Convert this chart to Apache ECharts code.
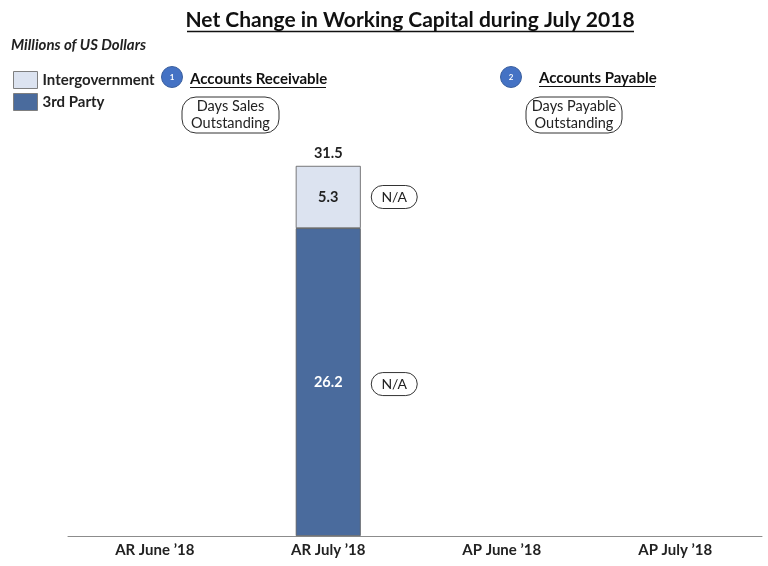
<!DOCTYPE html>
<html>
<head>
<meta charset="utf-8">
<style>
  html, body { margin: 0; padding: 0; background: #fff; }
  #chart { width: 768px; height: 566px; }
</style>
<script src="https://cdn.jsdelivr.net/npm/echarts@6/dist/echarts.min.js"></script>
</head>
<body>
<div id="chart"></div>
<script>
// Categories along the x axis
const categories = ['AR June \u201918', 'AR July \u201918', 'AP June \u201918', 'AP July \u201918'];
// Stacked components, millions of US dollars ('-' = no bar)
const thirdParty = ['-', 26.2, '-', '-'];
const intergovernment = ['-', 5.3, '-', '-'];
// Stack totals printed above each bar
const totals = ['-', 31.5, '-', '-'];
// Side notes shown beside each segment (days outstanding)
const thirdPartyNote = ['', 'N/A', '', ''];
const intergovNote = ['', 'N/A', '', ''];

const FONT = 'Lato, "Open Sans", sans-serif';
const DARK = '#4a6b9d';
const LIGHT = '#dce3f0';
const EDGE = '#595959';

const chart = echarts.init(document.getElementById('chart'), null, { renderer: 'canvas' });

// Rows for the annotation layer: category index, lower value, total
const noteRows = categories.map((c, i) => [
  i,
  thirdParty[i] === '-' ? null : thirdParty[i],
  totals[i] === '-' ? null : totals[i]
]);

function pill(cx, cy, text) {
  return [
    {
      type: 'rect',
      shape: { x: cx - 23, y: cy - 11.5, width: 46, height: 23, r: 11.5 },
      style: { fill: '#fff', stroke: '#333', lineWidth: 1 }
    },
    {
      type: 'text',
      style: {
        x: cx, y: cy, text: text, align: 'center', verticalAlign: 'middle',
        font: '14px ' + FONT, fill: '#222'
      }
    }
  ];
}

const option = {
  animation: false,
  textStyle: { fontFamily: FONT },
  grid: { left: 68, right: 6, top: 66, bottom: 30 },
  legend: {
    orient: 'vertical',
    left: 13,
    top: 71,
    padding: 0,
    itemWidth: 24,
    itemHeight: 17,
    itemGap: 4,
    icon: 'rect',
    selectedMode: false,
    data: ['Intergovernment', '3rd Party'],
    itemStyle: { borderColor: '#7f7f7f', borderWidth: 1 },
    textStyle: { fontFamily: FONT, fontWeight: 'bold', fontSize: 15, lineHeight: 17, color: '#222' }
  },
  xAxis: {
    type: 'category',
    data: categories,
    axisLine: { lineStyle: { color: '#8c8c8c', width: 1 } },
    axisTick: { show: false },
    axisLabel: { fontFamily: FONT, fontWeight: 'bold', fontSize: 15, color: '#222', margin: 7 }
  },
  yAxis: {
    type: 'value', min: 0, max: 40,
    show: false, splitLine: { show: false }
  },
  series: [
    {
      name: '3rd Party',
      type: 'bar',
      stack: 'wc',
      data: thirdParty,
      barWidth: 65,
      itemStyle: { color: DARK, borderColor: EDGE, borderWidth: 0.8 },
      label: {
        show: true, position: 'inside',
        fontFamily: FONT, fontWeight: 'bold', fontSize: 14.5, color: '#fff'
      }
    },
    {
      name: 'Intergovernment',
      type: 'bar',
      stack: 'wc',
      data: intergovernment,
      barWidth: 65,
      itemStyle: { color: LIGHT, borderColor: EDGE, borderWidth: 0.8 },
      label: {
        show: true, position: 'inside',
        fontFamily: FONT, fontWeight: 'bold', fontSize: 14.5, color: '#222'
      }
    },
    {
      name: 'notes',
      type: 'custom',
      silent: true,
      data: noteRows,
      encode: { x: 0, y: 2 },
      renderItem: function (params, api) {
        const i = api.value(0);
        const low = api.value(1);
        const tot = api.value(2);
        if (low == null || tot == null || isNaN(low) || isNaN(tot)) return null;
        const base = api.coord([i, 0]);
        const mLow = api.coord([i, low / 2]);
        const mHigh = api.coord([i, (low + tot) / 2]);
        const top = api.coord([i, tot]);
        const px = base[0] + 66;
        const kids = [
          {
            type: 'text',
            style: {
              x: base[0], y: top[1] - 5, text: String(totals[i]),
              align: 'center', verticalAlign: 'bottom',
              font: 'bold 14.5px ' + FONT, fill: '#222'
            }
          }
        ];
        if (intergovNote[i]) kids.push(...pill(px, mHigh[1], intergovNote[i]));
        if (thirdPartyNote[i]) kids.push(...pill(px, mLow[1] + 2, thirdPartyNote[i]));
        return { type: 'group', children: kids };
      },
      z: 10
    }
  ],
  graphic: [
    // Title with underline
    {
      type: 'text', x: 410, y: 20,
      style: { text: 'Net Change in Working Capital during July 2018', align: 'center', verticalAlign: 'middle', font: 'bold 21px ' + FONT, fill: '#111' }
    },
    { type: 'line', shape: { x1: 187, y1: 31.5, x2: 634, y2: 31.5 }, style: { stroke: '#111', lineWidth: 1.3 } },
    // Units note
    {
      type: 'text', x: 11, y: 38,
      style: { text: 'Millions of US Dollars', font: 'italic bold 15px ' + FONT, fill: '#222' }
    },
    // Section 1 marker and heading
    { type: 'circle', shape: { cx: 172, cy: 77, r: 10.5 }, style: { fill: '#4472c4', stroke: '#3a5f9e', lineWidth: 1 } },
    { type: 'text', x: 172, y: 77, style: { text: '1', align: 'center', verticalAlign: 'middle', font: 'bold 8px ' + FONT, fill: '#fff' } },
    { type: 'text', x: 190, y: 79, style: { text: 'Accounts Receivable', verticalAlign: 'middle', font: 'bold 15px ' + FONT, fill: '#111' } },
    { type: 'line', shape: { x1: 190, y1: 87.5, x2: 326, y2: 87.5 }, style: { stroke: '#111', lineWidth: 1 } },
    { type: 'rect', shape: { x: 182, y: 97, width: 97, height: 36, r: 14 }, style: { fill: '#fff', stroke: '#333', lineWidth: 1 } },
    { type: 'text', x: 230.5, y: 115, style: { text: 'Days Sales\nOutstanding', align: 'center', verticalAlign: 'middle', lineHeight: 17, font: '14.5px ' + FONT, fill: '#222' } },
    // Section 2 marker and heading
    { type: 'circle', shape: { cx: 511, cy: 77, r: 10.5 }, style: { fill: '#4472c4', stroke: '#3a5f9e', lineWidth: 1 } },
    { type: 'text', x: 511, y: 77, style: { text: '2', align: 'center', verticalAlign: 'middle', font: 'bold 8px ' + FONT, fill: '#fff' } },
    { type: 'text', x: 539, y: 78, style: { text: 'Accounts Payable', verticalAlign: 'middle', font: 'bold 15px ' + FONT, fill: '#111' } },
    { type: 'line', shape: { x1: 539, y1: 86.5, x2: 655, y2: 86.5 }, style: { stroke: '#111', lineWidth: 1 } },
    { type: 'rect', shape: { x: 526, y: 97, width: 96, height: 36, r: 14 }, style: { fill: '#fff', stroke: '#333', lineWidth: 1 } },
    { type: 'text', x: 574, y: 115, style: { text: 'Days Payable\nOutstanding', align: 'center', verticalAlign: 'middle', lineHeight: 17, font: '14.5px ' + FONT, fill: '#222' } }
  ]
};

chart.setOption(option);
</script>
</body>
</html>
